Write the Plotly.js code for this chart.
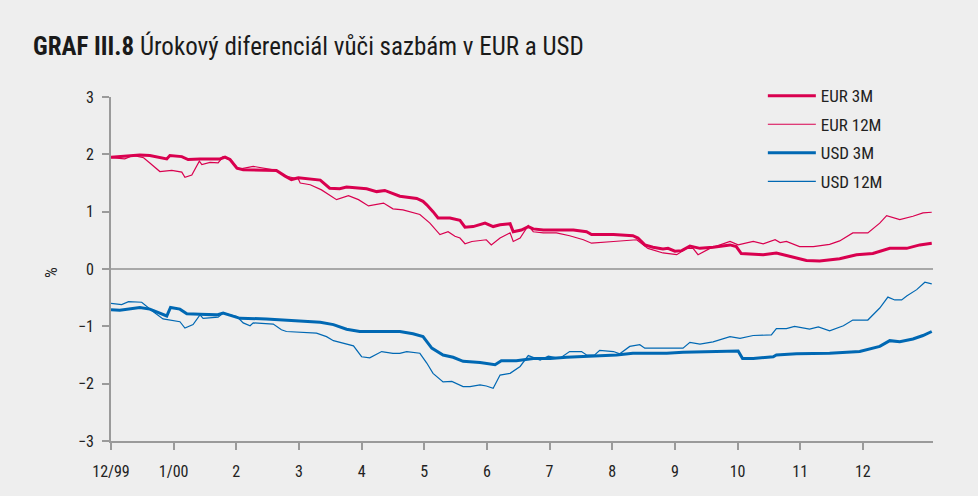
<!DOCTYPE html>
<html>
<head>
<meta charset="utf-8">
<script src="https://cdn.plot.ly/plotly-3.0.1.min.js"></script>
<style>html,body{margin:0;padding:0;background:#eeeeee;}#chart{width:978px;height:496px;}</style>
</head>
<body>
<div id="chart"></div>
<script>
// x positions in months since 12/99 (0 = 12/99, 1 = 1/00, ... 12 = 12)
const tickVals = [0,1,2,3,4,5,6,7,8,9,10,11,12];
const tickLabels = ["12/99","1/00","2","3","4","5","6","7","8","9","10","11","12"];

const eur3mX = [0,0.46,0.62,0.89,0.94,1.13,1.23,1.42,1.74,1.82,
  1.90,2.01,2.11,2.64,2.78,2.88,2.99,3.34,3.49,3.65,
  3.76,4.08,4.24,4.37,4.61,4.88,4.98,5.04,5.14,5.22,
  5.41,5.57,5.65,5.78,5.97,6.10,6.21,6.37,6.42,6.55,
  6.66,6.74,6.90,7.38,7.59,7.67,8.02,8.33,8.41,8.52,
  8.65,8.81,8.89,9.00,9.11,9.24,9.40,9.61,9.88,9.98,
  10.06,10.41,10.62,10.89,11.10,11.31,11.63,11.90,12.16,12.43,
  12.70,12.91,13.10];
const eur3mY = [1.95,1.99,1.98,1.92,1.98,1.96,1.91,1.92,1.92,1.95,
  1.91,1.76,1.73,1.72,1.62,1.56,1.59,1.55,1.41,1.40,
  1.43,1.40,1.35,1.37,1.27,1.23,1.18,1.12,1.00,0.89,
  0.89,0.85,0.73,0.74,0.80,0.74,0.77,0.79,0.65,0.68,
  0.74,0.70,0.68,0.68,0.65,0.60,0.60,0.58,0.54,0.42,
  0.38,0.35,0.36,0.31,0.32,0.40,0.36,0.38,0.42,0.39,
  0.27,0.25,0.28,0.21,0.15,0.14,0.18,0.25,0.27,0.36,
  0.36,0.42,0.45];

const eur12mX = [0,0.22,0.35,0.52,0.62,0.78,0.97,1.13,1.18,1.29,
  1.41,1.45,1.58,1.71,1.79,1.93,2.03,2.27,2.64,2.75,
  2.99,3.02,3.18,3.36,3.60,3.79,3.95,4.11,4.35,4.50,
  4.66,4.93,5.09,5.25,5.38,5.49,5.57,5.65,5.76,5.99,
  6.07,6.21,6.37,6.42,6.53,6.66,6.74,6.90,7.11,7.32,
  7.54,7.67,8.02,8.39,8.57,8.81,9.03,9.19,9.29,9.37,
  9.56,9.88,10.01,10.25,10.41,10.60,10.68,10.78,10.99,11.21,
  11.47,11.63,11.84,12.08,12.27,12.38,12.59,12.80,12.96,13.10];
const eur12mY = [1.94,1.92,1.98,1.94,1.85,1.70,1.72,1.69,1.60,1.64,
  1.88,1.82,1.86,1.85,1.96,1.88,1.74,1.79,1.72,1.63,
  1.57,1.50,1.47,1.38,1.21,1.28,1.21,1.10,1.15,1.05,
  1.03,0.95,0.80,0.60,0.65,0.57,0.54,0.44,0.48,0.51,
  0.42,0.54,0.63,0.48,0.54,0.76,0.65,0.63,0.63,0.58,
  0.51,0.45,0.48,0.51,0.36,0.28,0.25,0.36,0.36,0.25,
  0.36,0.48,0.42,0.48,0.44,0.51,0.46,0.48,0.39,0.39,
  0.43,0.49,0.63,0.63,0.80,0.93,0.86,0.92,0.98,0.99];

const usd3mX = [0,0.14,0.46,0.62,0.89,0.95,1.10,1.21,1.42,1.69,
  1.79,2.06,2.48,3.02,3.34,3.55,3.76,3.97,4.24,4.61,
  4.82,4.98,5.12,5.30,5.46,5.62,5.89,6.13,6.23,6.47,
  6.74,7.01,7.27,7.70,8.07,8.33,8.87,9.13,9.40,9.61,
  10.01,10.08,10.25,10.57,10.62,10.94,11.47,11.95,12.11,12.27,
  12.43,12.59,12.80,12.96,13.10];
const usd3mY = [-0.71,-0.72,-0.67,-0.70,-0.82,-0.67,-0.70,-0.78,-0.79,-0.80,
  -0.77,-0.86,-0.87,-0.90,-0.93,-0.97,-1.05,-1.09,-1.09,-1.09,
  -1.13,-1.18,-1.38,-1.50,-1.54,-1.61,-1.63,-1.67,-1.60,-1.60,
  -1.56,-1.56,-1.54,-1.52,-1.50,-1.47,-1.47,-1.45,-1.44,-1.44,
  -1.43,-1.56,-1.56,-1.53,-1.50,-1.48,-1.47,-1.44,-1.40,-1.35,
  -1.25,-1.27,-1.22,-1.16,-1.09];

const usd12mX = [0,0.17,0.28,0.49,0.67,0.83,1.10,1.18,1.31,1.42,
  1.47,1.71,1.79,2.01,2.11,2.22,2.27,2.59,2.72,2.80,
  3.28,3.44,3.55,3.87,4.00,4.13,4.32,4.50,4.61,4.72,
  4.93,5.04,5.14,5.30,5.44,5.62,5.73,5.89,5.99,6.10,
  6.21,6.37,6.53,6.66,6.85,6.98,7.16,7.32,7.51,7.59,
  7.72,7.80,8.02,8.12,8.28,8.44,8.52,8.81,9.13,9.24,
  9.40,9.61,9.88,10.04,10.25,10.54,10.62,10.78,10.91,11.15,
  11.29,11.47,11.69,11.84,12.08,12.27,12.40,12.51,12.62,12.70,
  12.86,12.99,13.10];
const usd12mY = [-0.60,-0.62,-0.57,-0.58,-0.74,-0.87,-0.92,-1.03,-0.97,-0.80,
  -0.86,-0.84,-0.77,-0.83,-0.94,-0.99,-0.94,-0.96,-1.06,-1.09,
  -1.12,-1.18,-1.25,-1.34,-1.53,-1.55,-1.44,-1.47,-1.47,-1.44,
  -1.47,-1.64,-1.82,-1.97,-1.96,-2.05,-2.05,-2.02,-2.04,-2.08,
  -1.85,-1.82,-1.70,-1.51,-1.59,-1.52,-1.56,-1.44,-1.44,-1.50,
  -1.50,-1.42,-1.44,-1.48,-1.35,-1.32,-1.38,-1.38,-1.38,-1.28,
  -1.31,-1.27,-1.18,-1.21,-1.16,-1.15,-1.04,-1.04,-1.00,-1.05,
  -1.01,-1.08,-0.99,-0.89,-0.89,-0.68,-0.49,-0.54,-0.54,-0.47,
  -0.36,-0.23,-0.26];

const seriesNames = ["EUR 3M","EUR 12M","USD 3M","USD 12M"];
const EUR_COLOR = "#d9004f";
const USD_COLOR = "#0068b3";
const FONT = "'Liberation Sans Narrow', 'Roboto Condensed', 'Open Sans', sans-serif";

function tr(x, y, name, color, width, g) {
  return {x: x, y: y, name: name, type: "scatter", mode: "lines",
    line: {color: color, width: width, shape: "linear"}, legendgroup: g, hoverinfo: "skip"};
}
const data = [
  tr(eur3mX, eur3mY, seriesNames[0], EUR_COLOR, 3, "a"),
  tr(eur12mX, eur12mY, seriesNames[1], EUR_COLOR, 1.2, "b"),
  tr(usd3mX, usd3mY, seriesNames[2], USD_COLOR, 3, "c"),
  tr(usd12mX, usd12mY, seriesNames[3], USD_COLOR, 1.2, "d")
];

const axisGray = "#9a9a9a";
const layout = {
  width: 978, height: 496,
  paper_bgcolor: "#eeeeee", plot_bgcolor: "#eeeeee",
  margin: {l: 111, r: 45, t: 97, b: 55, pad: 0},
  font: {family: FONT, color: "#222222", size: 16},
  title: {text: "<b>GRAF III.8</b> Úrokový diferenciál vůči sazbám v EUR a USD",
    x: 33/978, xanchor: "left", xref: "container", y: 1 - 46/496, yanchor: "middle", yref: "container",
    font: {family: FONT, size: 25, color: "#1a1a1a"}},
  showlegend: true,
  legend: {x: 0.793, y: 1.055, xanchor: "left", yanchor: "top", bgcolor: "rgba(0,0,0,0)",
    itemwidth: 48,
    font: {family: FONT, size: 17, color: "#222"}, tracegroupgap: 3.5, traceorder: "grouped"},
  annotations: [{text: "%", xref: "paper", yref: "paper", x: -0.073, y: 0.491,
    xanchor: "center", yanchor: "middle", textangle: -90, showarrow: false,
    font: {family: FONT, size: 17, color: "#222"}}],
  xaxis: {range: [0, 13.12], tickmode: "array", tickvals: tickVals, ticktext: tickLabels,
    ticks: "outside", ticklen: 7, tickwidth: 2, tickcolor: axisGray, ticklabelstandoff: 8,
    showline: true, linecolor: axisGray, linewidth: 2, showgrid: false, zeroline: false,
    tickfont: {family: FONT, size: 16, color: "#222"}, fixedrange: true},
  yaxis: {range: [-3, 3], tickmode: "linear", tick0: 0, dtick: 1,
    ticks: "outside", ticklen: 7, tickwidth: 2, tickcolor: axisGray, ticklabelstandoff: 5,
    showline: true, linecolor: axisGray, linewidth: 2, showgrid: false,
    zeroline: true, zerolinecolor: "#a8a8a8", zerolinewidth: 1.5,
    tickfont: {family: FONT, size: 16, color: "#222"}, fixedrange: true}
};
Plotly.newPlot("chart", data, layout, {displayModeBar: false, staticPlot: true});
</script>
</body>
</html>
